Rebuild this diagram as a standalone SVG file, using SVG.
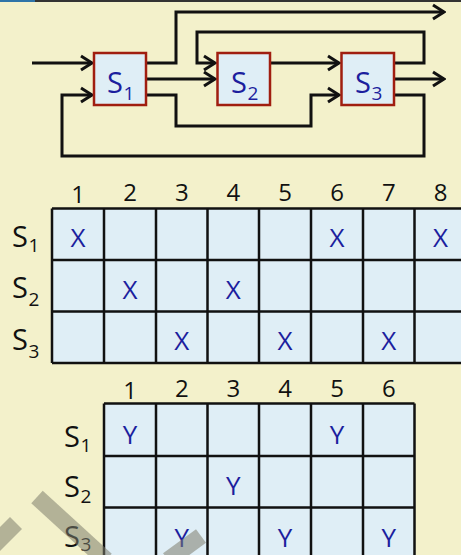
<svg xmlns="http://www.w3.org/2000/svg" width="461" height="555" viewBox="0 0 461 555">
<style>
.bg{fill:#F3F1CB}
.box{fill:#DFEEF6;stroke:#A01E10;stroke-width:2.5}
.bt{font-family:"Open Sans","Liberation Sans",sans-serif;fill:#1C1E9E}
.lbl{font-family:"Open Sans","Liberation Sans",sans-serif;fill:#111}
.big{font-size:29px}
.sub{font-size:19px}
.num{font-size:24px;text-anchor:middle}
.mk{font-size:26px;text-anchor:middle;font-family:"Open Sans","Liberation Sans",sans-serif;fill:#1C1E9E}
.cn{fill:none;stroke:#111;stroke-width:3;stroke-linejoin:miter}
.cell{fill:#DFEEF6}
.grid{fill:none;stroke:#111;stroke-width:2.5}
.wm{stroke:#7E7E6E;stroke-opacity:0.55;stroke-width:17;fill:none}
</style>
<defs>
<marker id="ah" viewBox="-14 -9 16 18" markerWidth="16" markerHeight="18" refX="0" refY="0" orient="auto" markerUnits="userSpaceOnUse">
<path d="M-11,-7 L0,0 L-11,7" fill="none" stroke="#111" stroke-width="3"/>
</marker>
</defs>
<rect class="bg" x="0" y="0" width="461" height="555"/>
<rect x="0" y="0" width="461" height="2" fill="#333333"/>
<rect x="0" y="0" width="35" height="2" fill="#2E74A8"/>

<g id="connectors">
<path class="cn" d="M32,63 H92" marker-end="url(#ah)"/>
<path class="cn" d="M394,95 H424 V156 H62 V95 H92" marker-end="url(#ah)"/>
<path class="cn" d="M146,63 H176 V12 H444" marker-end="url(#ah)"/>
<path class="cn" d="M146,79 H215" marker-end="url(#ah)"/>
<path class="cn" d="M146,95 H176 V126 H311 V95 H339" marker-end="url(#ah)"/>
<path class="cn" d="M270,63 H339" marker-end="url(#ah)"/>
<path class="cn" d="M394,63 H424 V32 H197 V63 H215" marker-end="url(#ah)"/>
<path class="cn" d="M394,79 H444" marker-end="url(#ah)"/>
</g>

<g id="S1">
<rect class="box" x="94" y="53" width="52" height="52"/>
<text class="bt big" x="107" y="93">S</text><text class="bt sub" x="123.5" y="100">1</text>
</g>
<g id="S2">
<rect class="box" x="217.5" y="53" width="52.5" height="52"/>
<text class="bt big" x="231" y="93">S</text><text class="bt sub" x="247.5" y="100">2</text>
</g>
<g id="S3">
<rect class="box" x="341.5" y="53" width="52.5" height="52"/>
<text class="bt big" x="355" y="93">S</text><text class="bt sub" x="371.5" y="100">3</text>
</g>

<g id="table1">
<rect class="cell" x="52" y="208.5" width="420" height="154.5"/>
<path class="grid" d="M52,208.5 H472 M52,260 H472 M52,311.5 H472 M52,363 H472 M52,208.5 V363 M104,208.5 V363 M156,208.5 V363 M207.5,208.5 V363 M259,208.5 V363 M311,208.5 V363 M363,208.5 V363 M414.5,208.5 V363"/>
<text class="lbl num" x="78" y="203">1</text>
<text class="lbl num" x="130" y="200.5">2</text>
<text class="lbl num" x="181.75" y="200.5">3</text>
<text class="lbl num" x="233.25" y="200.5">4</text>
<text class="lbl num" x="285" y="200.5">5</text>
<text class="lbl num" x="337" y="200.5">6</text>
<text class="lbl num" x="388.75" y="200.5">7</text>
<text class="lbl num" x="440.5" y="200.5">8</text>
<text class="lbl big" x="12" y="246.5">S</text><text class="lbl sub" x="28.5" y="252">1</text>
<text class="lbl big" x="12" y="298">S</text><text class="lbl sub" x="28.5" y="306">2</text>
<text class="lbl big" x="12" y="350">S</text><text class="lbl sub" x="28.5" y="358">3</text>
<text class="mk" x="78" y="247">X</text>
<text class="mk" x="337" y="247">X</text>
<text class="mk" x="440.5" y="247">X</text>
<text class="mk" x="130" y="298.5">X</text>
<text class="mk" x="233.25" y="298.5">X</text>
<text class="mk" x="181.75" y="350">X</text>
<text class="mk" x="285" y="350">X</text>
<text class="mk" x="388.75" y="350">X</text>
</g>

<g id="table2">
<rect class="cell" x="104" y="403.5" width="310.5" height="160"/>
<path class="grid" d="M104,403.5 H414.5 M104,456 H414.5 M104,507.5 H414.5 M104,403.5 V560 M156,403.5 V560 M207.5,403.5 V560 M259,403.5 V560 M311,403.5 V560 M363,403.5 V560 M414.5,403.5 V560"/>
<text class="lbl num" x="130" y="399">1</text>
<text class="lbl num" x="181.75" y="396.5">2</text>
<text class="lbl num" x="233.25" y="396.5">3</text>
<text class="lbl num" x="285" y="396.5">4</text>
<text class="lbl num" x="337" y="396.5">5</text>
<text class="lbl num" x="388.75" y="396.5">6</text>
<text class="lbl big" x="64" y="446.5">S</text><text class="lbl sub" x="80.5" y="452">1</text>
<text class="lbl big" x="64" y="496.5">S</text><text class="lbl sub" x="80.5" y="503">2</text>
<text class="lbl big" x="64" y="547">S</text><text class="lbl sub" x="80.5" y="551">3</text>
<text class="mk" x="130" y="443.5">Y</text>
<text class="mk" x="337" y="443.5">Y</text>
<text class="mk" x="233.25" y="495">Y</text>
<text class="mk" x="181.75" y="546.5">Y</text>
<text class="mk" x="285" y="546.5">Y</text>
<text class="mk" x="388.75" y="546.5">Y</text>
</g>

<g id="watermark">
<path class="wm" d="M37,497 L106,560"/>
<path class="wm" d="M16,523 L-8,547"/>
<path class="wm" d="M201,536 L168,560"/>
</g>
</svg>
